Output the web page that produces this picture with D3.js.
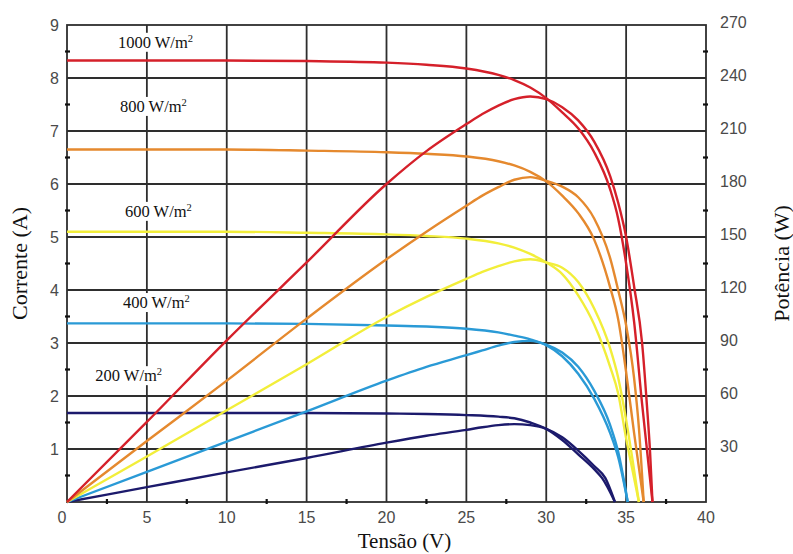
<!DOCTYPE html>
<html><head><meta charset="utf-8">
<script src="https://cdn.jsdelivr.net/npm/d3@7"></script>
<style>body{margin:0;background:#fff;overflow:hidden}</style>
</head><body>
<svg id="chart" width="793" height="554"></svg>
<script>
// ---------- DATA ----------
const voltageTicks = [0, 5, 10, 15, 20, 25, 30, 35, 40];
const currentTicks = [1, 2, 3, 4, 5, 6, 7, 8, 9];
const powerTicks = [30, 60, 90, 120, 150, 180, 210, 240, 270];
const irradiances = ["1000", "800", "600", "400", "200"];

// I-V curves: [voltage V, current A]
const iv1000 = [[0,8.33],[5,8.33],[10,8.33],[15,8.32],[20,8.29],[22.5,8.25],[25,8.18],[27,8.06],[28,7.96],[29,7.82],[30,7.62],[31,7.35],[32,7.05],[33,6.6],[34,5.9],[34.5,5.35],[35,4.5],[35.5,3.4],[36,1.85],[36.3,1.0],[36.65,0]];
const iv800  = [[0,6.65],[5,6.65],[10,6.65],[15,6.63],[20,6.6],[22.5,6.57],[25,6.52],[27,6.43],[28,6.35],[29,6.23],[30,6.05],[31,5.78],[32,5.45],[33,4.95],[34,4.05],[34.5,3.45],[35,2.45],[35.5,1.3],[36.1,0]];
const iv600  = [[0,5.1],[5,5.1],[10,5.1],[15,5.08],[20,5.05],[22.5,5.02],[25,4.97],[27,4.88],[28,4.8],[29,4.68],[30,4.52],[31,4.3],[32,3.9],[33,3.35],[34,2.55],[34.5,2.05],[35,1.2],[35.4,0.6],[35.8,0]];
const iv400  = [[0,3.37],[5,3.37],[10,3.37],[15,3.36],[20,3.33],[22.5,3.31],[25,3.27],[27,3.2],[28,3.14],[29,3.07],[30,2.96],[31,2.75],[32,2.42],[33,1.95],[34,1.3],[34.5,0.85],[35.1,0]];
const iv200  = [[0,1.68],[5,1.68],[10,1.68],[15,1.68],[20,1.67],[22.5,1.66],[25,1.64],[27,1.61],[28,1.58],[29,1.5],[30,1.38],[31,1.17],[32,0.9],[33,0.62],[33.5,0.45],[34.3,0]];

// P-V curves: [voltage V, power W]
const pv1000 = [[0,0],[5,45.3],[10,91.5],[15,135.6],[20,180],[22.5,198.6],[25,213.9],[26,219.6],[27,224.4],[28,228],[29,229.5],[30,228],[31,223.5],[32,216],[33,204],[34,184.5],[34.5,169.5],[35,150],[35.5,122],[36,90],[36.3,55],[36.5,28],[36.65,0]];
const pv800  = [[0,0],[5,34.5],[10,68.7],[15,103.8],[20,137.4],[22.5,153],[25,167.7],[26,173.4],[27,178.2],[28,182.4],[29,183.9],[30,181.8],[31,178.5],[32,172.5],[33,160.5],[34,138],[34.5,120],[35,100],[35.5,70],[35.8,42],[36.1,0]];
const pv600  = [[0,0],[5,25.8],[10,51.9],[15,78],[20,104.7],[22.5,116.1],[25,126.3],[26,130.2],[27,133.5],[28,136.2],[29,137.4],[30,135.6],[31,132.6],[32,124.5],[33,109.5],[34,87],[34.5,70.5],[35,46.5],[35.4,24],[35.8,0]];
const pv400  = [[0,0],[5,17.1],[10,34.2],[15,51.3],[20,68.7],[22.5,76.5],[25,83.1],[26,85.8],[27,88.5],[28,90.6],[29,91.2],[30,89.1],[31,84.6],[32,76.5],[33,63],[34,43.5],[34.5,28.5],[35.1,0]];
const pv200  = [[0,0],[5,8.4],[10,16.8],[15,24.9],[20,33.6],[22.5,37.5],[25,40.8],[26,42.3],[27,43.5],[28,44.1],[29,43.5],[30,41.4],[31,36.6],[32,29.1],[33,20.4],[33.7,13.5],[34.3,0]];

const ivSeries = [iv1000, iv800, iv600, iv400, iv200];
const pvSeries = [pv1000, pv800, pv600, pv400, pv200];

// ---------- STYLE / LAYOUT ----------
const colors = ["#d5202a", "#e5892e", "#f2ee3a", "#2a9ad6", "#1c1a6c"];
const labelAnchors = [[3.19, 8.57], [3.32, 7.36], [3.63, 5.38], [3.5, 3.66], [1.77, 2.28]]; // label positions (V, A)

const svg = d3.select("#chart");
const x = d3.scaleLinear().domain([0, 40]).range([67, 706]);
const y = d3.scaleLinear().domain([0, 9]).range([502, 25]);
const yP = d3.scaleLinear().domain([0, 270]).range([502, 25]);

svg.append("rect").attr("width", 793).attr("height", 554).attr("fill", "#fff");

const grid = svg.append("g").attr("stroke", "#2e2e2e").attr("stroke-width", 1.8);
grid.selectAll(".vg").data(voltageTicks.slice(1, -1)).join("line")
  .attr("x1", d => x(d)).attr("x2", d => x(d)).attr("y1", y(0)).attr("y2", y(9));
grid.selectAll(".hg").data(currentTicks.slice(0, -1)).join("line")
  .attr("y1", d => y(d)).attr("y2", d => y(d)).attr("x1", x(0)).attr("x2", x(40));
grid.append("rect").attr("x", x(0)).attr("y", y(9)).attr("width", x(40) - x(0)).attr("height", y(0) - y(9))
  .attr("fill", "none");

// minor ticks
const minor = svg.append("g").attr("stroke", "#111").attr("stroke-width", 2.2);
const halfV = d3.range(2.5, 40, 5);
const halfI = d3.range(0.5, 9, 1);
minor.selectAll(".mb").data(halfV).join("line")
  .attr("x1", d => x(d)).attr("x2", d => x(d)).attr("y1", y(0) - 3).attr("y2", y(0) + 2);
minor.selectAll(".ml").data(halfI).join("line")
  .attr("y1", d => y(d)).attr("y2", d => y(d)).attr("x1", x(0) - 2).attr("x2", x(0) + 3);
minor.selectAll(".mr").data(halfI).join("line")
  .attr("y1", d => y(d)).attr("y2", d => y(d)).attr("x1", x(40) - 3).attr("x2", x(40) + 2);

// tick labels
const tickFont = "'Liberation Sans', Arial, sans-serif";
const tl = svg.append("g").attr("font-family", tickFont).attr("font-size", 16).attr("fill", "#4a4a4a");
tl.selectAll(".lt").data(currentTicks).join("text")
  .attr("x", x(0) - 8).attr("y", d => y(d)).attr("dy", "0.35em").attr("text-anchor", "end").text(d => d);
tl.selectAll(".bt").data(voltageTicks).join("text")
  .attr("x", d => d === 0 ? x(d) - 5 : x(d)).attr("y", y(0) + 21).attr("text-anchor", "middle").text(d => d);
tl.selectAll(".rt").data(powerTicks).join("text")
  .attr("x", x(40) + 14).attr("y", d => yP(d)).attr("dy", "0.2em").attr("text-anchor", "start").text(d => d);

// irradiance labels with white backgrounds
const lblG = svg.append("g");
irradiances.forEach((irr, i) => {
  const g = lblG.append("g");
  const bg = g.append("rect").attr("fill", "#fff");
  const t = g.append("text").attr("x", x(labelAnchors[i][0])).attr("y", y(labelAnchors[i][1]))
    .attr("font-family", "'Liberation Serif', 'Times New Roman', serif").attr("font-size", 16.5).attr("fill", "#111");
  t.append("tspan").text(irr + " W/m");
  t.append("tspan").attr("font-size", 10.5).attr("dy", -6).text("2");
  const b = t.node().getBBox();
  bg.attr("x", b.x - 2).attr("y", b.y).attr("width", b.width + 4).attr("height", b.height);
});

// curves
const lineIV = d3.line().x(d => x(d[0])).y(d => y(d[1])).curve(d3.curveMonotoneX);
const linePV = d3.line().x(d => x(d[0])).y(d => yP(d[1])).curve(d3.curveMonotoneX);
const curves = svg.append("g").attr("fill", "none").attr("stroke-width", 2.4).attr("stroke-linejoin", "round");
// draw lowest irradiance first so stronger ones sit on top
for (let i = ivSeries.length - 1; i >= 0; i--) {
  curves.append("path").attr("d", linePV(pvSeries[i])).attr("stroke", colors[i]);
  curves.append("path").attr("d", lineIV(ivSeries[i])).attr("stroke", colors[i]);
}

// axis titles
const titleFont = "'Liberation Serif', 'Times New Roman', serif";
svg.append("text").attr("transform", `translate(27,${(y(0) + y(9)) / 2}) rotate(-90)`)
  .attr("text-anchor", "middle").attr("font-family", titleFont).attr("font-size", 22).attr("fill", "#111")
  .text("Corrente (A)");
svg.append("text").attr("transform", `translate(789,${(y(0) + y(9)) / 2}) rotate(-90)`)
  .attr("text-anchor", "middle").attr("font-family", titleFont).attr("font-size", 22).attr("fill", "#111")
  .text("Potência (W)");
svg.append("text").attr("x", (x(0) + x(40)) / 2 + 18).attr("y", 548)
  .attr("text-anchor", "middle").attr("font-family", titleFont).attr("font-size", 21).attr("fill", "#111")
  .text("Tensão (V)");
</script>
</body></html>
